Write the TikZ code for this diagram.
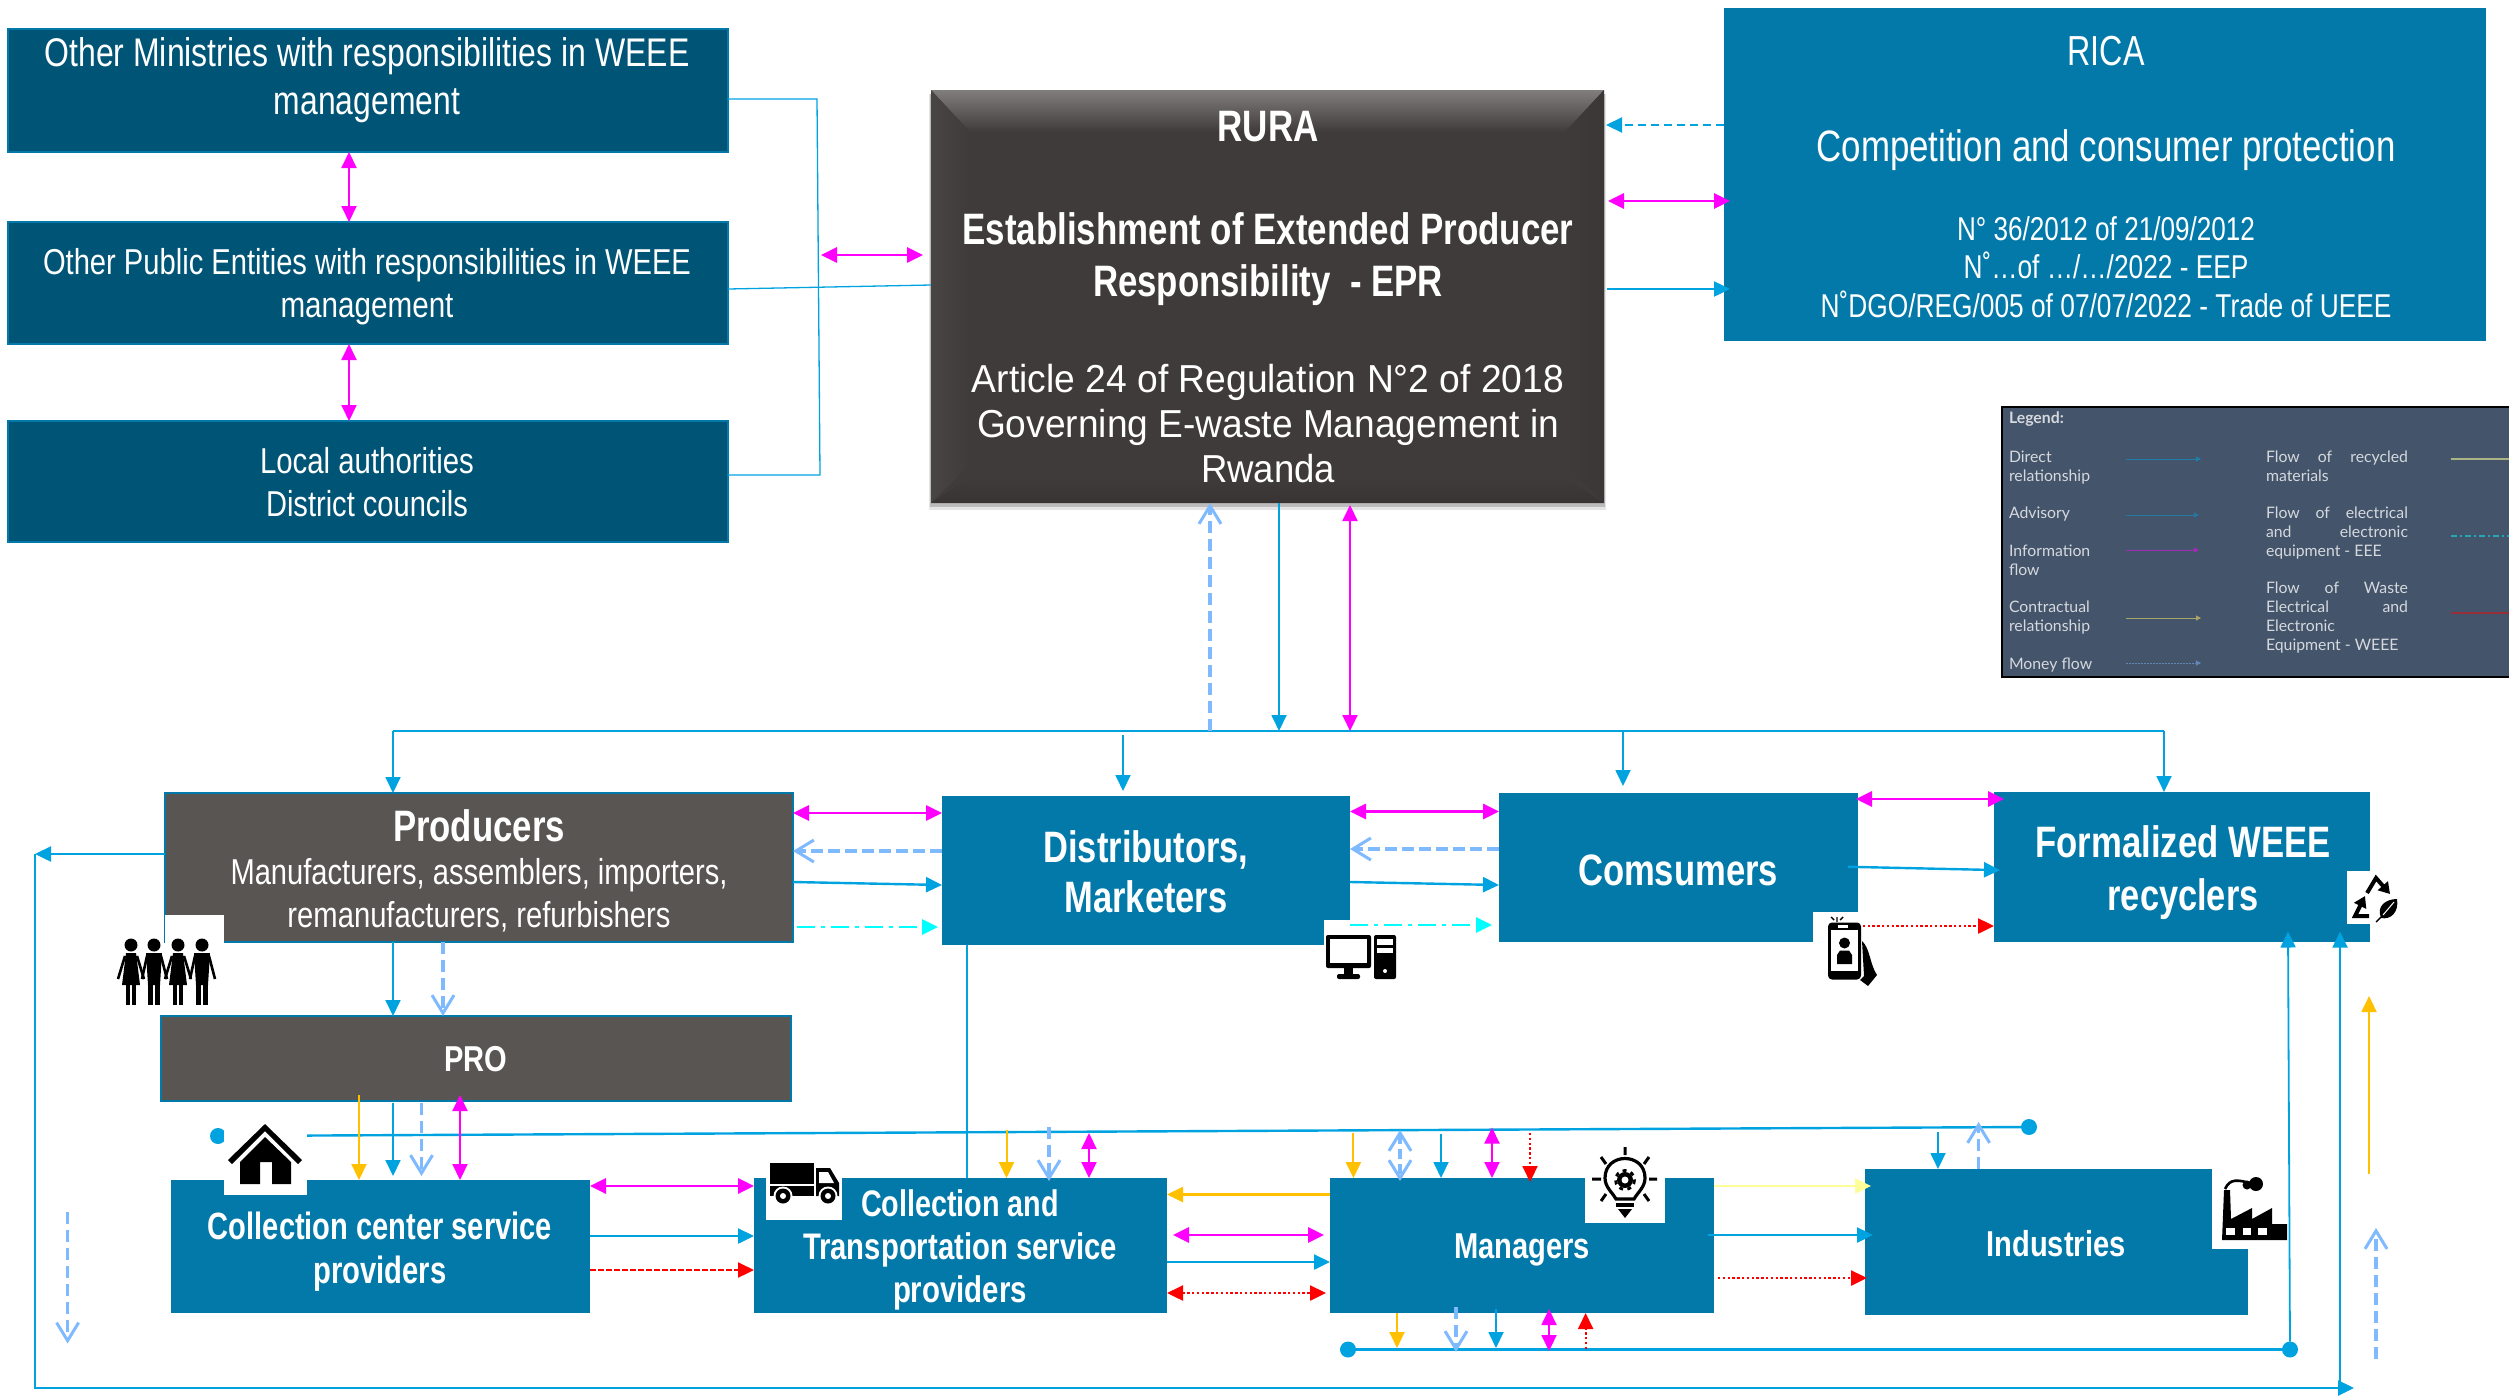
\documentclass[tikz,border=0pt]{standalone}
\usepackage{fontspec}
\usepackage{graphicx}
\usetikzlibrary{arrows.meta}
\setmainfont{Liberation Sans}
\newfontfamily\latofont{Lato}
\newlength\pxu \setlength\pxu{0.5pt}
\newcommand\fitl[2]{\resizebox{#1\pxu}{\height}{#2}}
\newcommand\jl[2]{\hbox to #1\pxu{#2}}
\newcommand\fs[2]{\fontsize{#1}{#2}\selectfont}
\definecolor{boxblue}{HTML}{0279A9}
\definecolor{boxteal}{HTML}{005476}
\definecolor{boxgrey}{HTML}{595552}
\definecolor{ruradark}{HTML}{3F3B3A}
\definecolor{flowblue}{HTML}{00A3E0}
\definecolor{flowlight}{HTML}{7FBAFF}
\definecolor{flowamber}{HTML}{FFC000}
\definecolor{flowpale}{HTML}{FFFF99}
\definecolor{flowmag}{HTML}{FF00FF}
\definecolor{flowcyan}{HTML}{00FFFF}
\definecolor{flowred}{HTML}{FF0000}
\definecolor{legbg}{HTML}{44546A}
\definecolor{legtext}{HTML}{D5D9DE}
\tikzset{
  tri/.tip={Triangle[length=8pt,width=7.5pt]},
  barb/.tip={Straight Barb[length=9pt,width=11pt,line width=1.5pt]},
  base/.style={inner sep=0pt,outer sep=0pt,rectangle},
  tealbox/.style={base,fill=boxteal,draw=boxblue,line width=1pt},
  greybox/.style={base,fill=boxgrey,draw=boxblue,line width=1pt},
  bluebox/.style={base,fill=boxblue},
  txt/.style={inner sep=0pt,outer sep=0pt,text=white,align=center},
  blue/.style={draw=flowblue,line width=1.2pt,-{tri}},
  bluethin/.style={draw=flowblue,line width=0.9pt,-{tri}},
  plain/.style={draw=flowblue,line width=0.65pt},
  plainb/.style={draw=flowblue,line width=1.2pt},
  mag/.style={draw=flowmag,line width=1.4pt,{tri}-{tri}},
  magthin/.style={draw=flowmag,line width=1pt,{tri}-{tri}},
  lite/.style={draw=flowlight,line width=2pt,dash pattern=on 6pt off 2.5pt,-{barb}},
  litev/.style={draw=flowlight,line width=1.7pt,dash pattern=on 6pt off 3pt,-{barb}},
  liteboth/.style={draw=flowlight,line width=1.7pt,dash pattern=on 5pt off 2.5pt,{barb}-{barb}},
  amber/.style={draw=flowamber,line width=1pt,-{tri}},
  pale/.style={draw=flowpale,line width=1.2pt,-{tri}},
  rdot/.style={draw=flowred,line width=1.2pt,dash pattern=on 1.2pt off 1.2pt,-{tri}},
  rdotboth/.style={draw=flowred,line width=1.2pt,dash pattern=on 1.2pt off 1.2pt,{tri}-{tri}},
  rdash/.style={draw=flowred,line width=1.1pt,dash pattern=on 3pt off 1pt,-{tri}},
  cyandd/.style={draw=flowcyan,line width=1.4pt,dash pattern=on 9pt off 3pt on 2pt off 3pt,-{tri}},
  bdash/.style={draw=flowblue,line width=1.2pt,dash pattern=on 4pt off 2.5pt,-{tri}},
  dot/.style={circle,fill=flowblue,inner sep=0pt,outer sep=0pt,minimum size=8pt},
  legtxt/.style={inner sep=0pt,outer sep=0pt,text=legtext,align=left,anchor=north west,font=\latofont\fs{7.9}{9.5}},
  legarrow/.style={line width=0.5pt,-{Triangle[length=2.5pt,width=2.5pt]}},
}
\newcommand\mkbox[6]{\node[#6,minimum width={(#4-#2)*0.5pt},minimum height={(#5-#3)*0.5pt}] (#1) at ({(#2+#4)/2},{(#3+#5)/2}) {};}
\newcommand\whiteout[4]{\fill[white] (#1,#2) rectangle (#3,#4);}
\newcommand\womanfig[1]{%
  \fill (#1,945) circle[radius=6.5];
  \fill ({#1-5},953) -- ({#1+5},953) -- ({#1+9},985) -- ({#1-9},985) -- cycle;
  \fill ({#1-5},985) rectangle ({#1-1},1005);
  \fill ({#1+1},985) rectangle ({#1+5},1005);
  \draw[line width=1.3pt] ({#1-6},956) -- ({#1-13},979);
  \draw[line width=1.3pt] ({#1+6},956) -- ({#1+13},979);}
\newcommand\manfig[1]{%
  \fill (#1,945) circle[radius=6.5];
  \fill ({#1-8},953) -- ({#1+8},953) -- ({#1+6},985) -- ({#1-6},985) -- cycle;
  \fill ({#1-6},985) rectangle ({#1-1},1005);
  \fill ({#1+1},985) rectangle ({#1+6},1005);
  \draw[line width=1.3pt] ({#1-7},956) -- ({#1-12},979);
  \draw[line width=1.3pt] ({#1+7},956) -- ({#1+13},979);}
\begin{document}
\begin{tikzpicture}[x=0.5pt,y=-0.5pt]
\useasboundingbox (0,0) rectangle (2509,1397);

%% ---------- boxes ----------
\mkbox{min}{8}{29}{728}{152}{tealbox}
\mkbox{pub}{8}{222}{728}{344}{tealbox}
\mkbox{loc}{8}{421}{728}{542}{tealbox}
\mkbox{rica}{1724}{8}{2486}{341}{bluebox}
\fill[black,opacity=.10] (929,94) rectangle (1606,510);
\fill[black,opacity=.18] (930,94) rectangle (1605,507);
\mkbox{rura}{931}{90}{1604}{503}{base,fill=ruradark}
\shade[top color=ruradark!60!white!85!ruradark,bottom color=ruradark] (931,90) -- (1604,90) -- (1565,132) -- (970,132) -- cycle;
\shade[left color=ruradark!95!white,right color=ruradark] (931,90) -- (970,132) -- (970,465) -- (931,503) -- cycle;
\shade[left color=ruradark,right color=ruradark!93!black] (1604,90) -- (1565,132) -- (1565,465) -- (1604,503) -- cycle;
\shade[top color=ruradark,bottom color=ruradark!88!black] (931,503) -- (970,478) -- (1565,478) -- (1604,503) -- cycle;
\mkbox{prod}{165}{793}{793}{942}{greybox}
\mkbox{pro}{161}{1016}{791}{1101}{greybox}
\mkbox{dist}{942}{796}{1350}{945}{bluebox}
\mkbox{cons}{1499}{793}{1858}{942}{bluebox}
\mkbox{form}{1994}{792}{2370}{942}{bluebox}
\mkbox{cc}{171}{1180}{590}{1313}{bluebox}
\mkbox{trans}{754}{1178}{1167}{1313}{bluebox}
\mkbox{mgr}{1330}{1178}{1714}{1313}{bluebox}
\mkbox{ind}{1865}{1169}{2248}{1315}{bluebox}

%% ---------- long collector with its end dots ----------
\node[dot] (dotA) at (218,1136) {};
\node[dot] (dotB) at (2029,1127) {};
\node[dot] (dotC) at (1348,1349.5) {};
\node[dot] (dotD) at (2290,1349.5) {};
\draw[plainb] (dotA) -- (dotB);
\draw[plainb] (dotC) -- (dotD);

%% ---------- white notches behind the icons ----------
\whiteout{165}{915}{224}{943}
\whiteout{224}{1110}{307}{1195}
\whiteout{766}{1178}{842}{1220}
\whiteout{1324}{920}{1351}{946}
\whiteout{1813}{912}{1859}{943}
\whiteout{2347}{871}{2371}{924}
\whiteout{1585}{1178}{1665}{1223}
\whiteout{2212}{1169}{2249}{1249}

%% ---------- free ends ----------
\coordinate (brT) at (817,99);
\coordinate (brB) at (820,475);
\coordinate (brM) at (821,255);
\coordinate (trL) at (393,731);
\coordinate (trR) at (2164,731);
\coordinate (trD) at (1123,735);
\coordinate (trC) at (1623,731);
\coordinate (trA) at (1210,731);
\coordinate (trB) at (1279,731);
\coordinate (trM) at (1350,731);
\coordinate (outL) at (35,854);
\coordinate (outB) at (35,1388);
\coordinate (outR) at (2354,1388);
\coordinate (outV) at (2340,1388);
\coordinate (sideA) at (67.6,1212);
\coordinate (sideB) at (67.6,1343.5);
\coordinate (sideC) at (2369,1173.5);
\coordinate (sideD) at (2369,996);
\coordinate (sideE) at (2376,1358.5);
\coordinate (sideF) at (2376,1228);
\coordinate (tA) at (1006.5,1129.5);
\coordinate (tB) at (1049,1127);
\coordinate (tC) at (1089,1133);
\coordinate (mA) at (1353.4,1133);
\coordinate (mB) at (1400,1130);
\coordinate (mC) at (1441,1134);
\coordinate (mD) at (1492,1127.5);
\coordinate (mE) at (1530,1133);
\coordinate (bA) at (1397,1348);
\coordinate (bB) at (1456,1352);
\coordinate (bC) at (1496,1348);
\coordinate (bD) at (1549,1351);
\coordinate (bE) at (1585.6,1349);
\coordinate (iA) at (1938,1132);
\coordinate (iB) at (1978.6,1122);
\coordinate (upA) at (2288,931.5);
\coordinate (upB) at (2340,931.5);
\coordinate (pyA) at (359,1095);
\coordinate (pyB) at (460,1095);

%% ---------- upper left group ----------
\draw[plain] (min.east |- brT) -- (brT) -- (brB) -- (loc.east |- brB);
\draw[plain] (pub.east |- 0,289) -- (rura.west |- 0,285);
\draw[mag,shorten >=4pt] (brM) -- (rura.west |- brM);
\draw[magthin] (349,0 |- min.south) -- (349,0 |- pub.north);
\draw[magthin] (349,0 |- pub.south) -- (349,0 |- loc.north);

%% ---------- RURA and RICA ----------
\draw[bdash] (rica.west |- 0,125) -- ([xshift=1pt]rura.east |- 0,125);
\draw[mag,shorten <=1pt,shorten >=-3pt] ([xshift=1pt]rura.east |- 0,201) -- (rica.west |- 0,201);
\draw[blue,shorten <=1.5pt,shorten >=-3pt] (rura.east |- 0,289) -- (rica.west |- 0,289);
\draw[plain] (trL) -- (trR);
\draw[litev] (trA) -- (rura.south -| trA);
\draw[bluethin] (rura.south -| trB) -- (trB);
\draw[magthin] (trM) -- ([yshift=-1pt]rura.south -| trM);
\draw[bluethin] (trL) -- (prod.north -| trL);
\draw[bluethin,shorten >=2.5pt] (trD) -- (dist.north -| trD);
\draw[bluethin,shorten >=3.5pt] (trC) -- (cons.north -| trC);
\draw[bluethin] (trR) -- (form.north -| trR);

%% ---------- first row ----------
\draw[mag] (prod.east |- 0,813) -- (dist.west |- 0,813);
\draw[lite] (dist.west |- 0,851) -- (prod.east |- 0,851);
\draw[blue] (prod.east |- 0,882) -- (dist.west |- 0,885);
\draw[cyandd,shorten <=2pt,shorten >=2pt] (prod.east |- 0,927) -- (dist.west |- 0,927);
\draw[mag] (dist.east |- 0,811.5) -- (cons.west |- 0,811.5);
\draw[lite] (cons.west |- 0,849) -- (dist.east |- 0,849);
\draw[blue] (dist.east |- 0,882) -- (cons.west |- 0,885);
\draw[cyandd,shorten >=3.5pt] (dist.east |- 0,925) -- (cons.west |- 0,925);
\draw[mag,shorten >=-5pt,shorten <=-1pt] (cons.east |- 0,799) -- (form.west |- 0,799);
\draw[blue,shorten <=-5pt,shorten >=-3pt] (cons.east |- 0,867) -- (form.west |- 0,870);
\draw[rdot] (cons.east |- 0,926) -- (form.west |- 0,926);
\draw[blue] (prod.west |- outL) -- (outL);
\draw[plain,line width=1pt] (outL) -- (outB) -- (outV);
\draw[plainb,-{tri}] (outV) -- (outR);
\draw[bluethin] (outV) -- (upB);
\draw[bluethin] (dotD) -- (upA);
\draw[plain,line width=1pt] (967,0 |- dist.south) -- (967,0 |- trans.north);

%% ---------- producers, PRO, collection centre ----------
\draw[bluethin] (393,0 |- prod.south) -- (393,0 |- pro.north);
\draw[litev] (443,0 |- prod.south) -- (443,0 |- pro.north);
\draw[amber] (pyA) -- (pyA |- cc.north);
\draw[bluethin,shorten <=1pt,shorten >=2pt] (393,0 |- pro.south) -- (393,0 |- cc.north);
\draw[litev,shorten <=1pt,shorten >=2pt] (421.5,0 |- pro.south) -- (421.5,0 |- cc.north);
\draw[magthin] (pyB) -- (pyB |- cc.north);

%% ---------- bottom row ----------
\draw[mag] (cc.east |- 0,1186) -- (trans.west |- 0,1186);
\draw[blue] (cc.east |- 0,1236) -- (trans.west |- 0,1236);
\draw[rdash] (cc.east |- 0,1270) -- (trans.west |- 0,1270);
\draw[litev] (sideA) -- (sideB);
\draw[amber] (tA) -- (tA |- trans.north);
\draw[litev] (tB) -- ([yshift=-1.5pt]tB |- trans.north);
\draw[magthin] (tC) -- (tC |- trans.north);
\draw[amber,line width=1.3pt] (mgr.west |- 0,1194.5) -- (trans.east |- 0,1194.5);
\draw[mag,shorten <=3pt,shorten >=3pt] (trans.east |- 0,1235) -- (mgr.west |- 0,1235);
\draw[blue] (trans.east |- 0,1262) -- (mgr.west |- 0,1262);
\draw[rdotboth,shorten <=0pt,shorten >=2pt] (trans.east |- 0,1293) -- (mgr.west |- 0,1293);
\draw[amber] (mA) -- (mA |- mgr.north);
\draw[liteboth] (mB) -- ([yshift=-1.5pt]mB |- mgr.north);
\draw[bluethin] (mC) -- (mC |- mgr.north);
\draw[magthin] (mD) -- (mD |- mgr.north);
\draw[rdot,line width=1pt] (mE) -- ([yshift=-2pt]mE |- mgr.north);
\draw[amber] (bA |- mgr.south) -- (bA);
\draw[litev] ([yshift=3pt]bB |- mgr.south) -- (bB);
\draw[bluethin,shorten <=-2pt] (bC |- mgr.south) -- (bC);
\draw[magthin] ([yshift=2pt]bD |- mgr.south) -- (bD);
\draw[rdot,line width=1pt] (bE) -- (bE |- mgr.south);
\draw[pale,shorten >=-3pt] (mgr.east |- 0,1186) -- (ind.west |- 0,1186);
\draw[blue,shorten >=-4pt,shorten <=-3pt] (mgr.east |- 0,1235) -- (ind.west |- 0,1235);
\draw[rdot,shorten <=2pt,shorten >=-1pt] (mgr.east |- 0,1278) -- (ind.west |- 0,1278);
\draw[bluethin] (iA) -- (iA |- ind.north);
\draw[litev] (iB |- ind.north) -- (iB);
\draw[amber] (sideC) -- (sideD);
\draw[litev] (sideE) -- (sideF);

%% ---------- icons ----------
% people
\womanfig{131}\manfig{154}\womanfig{178}\manfig{202}
% house
\fill (265,1124) -- (302,1160) -- (298,1164) -- (265,1131) -- (232,1164) -- (228,1160) -- cycle;
\fill (265,1137) -- (291,1162) -- (291,1184) -- (272,1184) -- (272,1162) -- (260,1162) -- (260,1184) -- (240,1184) -- (240,1162) -- cycle;
% truck
\fill (770,1162.5) rectangle (814,1184);
\fill (770,1186) rectangle (814,1196);
\fill (816,1168) -- (830,1168) -- (839,1183) -- (839,1196) -- (816,1196) -- cycle;
\fill[white] (819,1172) -- (828,1172) -- (834,1183) -- (819,1183) -- cycle;
\fill[white] (783,1196) circle[radius=9.5];
\fill (783,1196) circle[radius=7.5];
\fill[white] (783,1196) circle[radius=3];
\fill[white] (828,1196) circle[radius=9.5];
\fill (828,1196) circle[radius=7.5];
\fill[white] (828,1196) circle[radius=3];
% computer
\fill[rounded corners=1pt] (1326,935) rectangle (1371,968);
\fill[white] (1330,939) rectangle (1367,963);
\fill (1344,968) rectangle (1353,975);
\fill[rounded corners=1pt] (1337,974) rectangle (1360,979);
\fill[rounded corners=1pt] (1374,935) rectangle (1396,979);
\fill[white] (1377,939) rectangle (1393,945);
\fill[white] (1377,948) rectangle (1393,953);
\fill[white] (1385,971) circle[radius=2];
% phone
\fill[rounded corners=2pt] (1828,922.5) rectangle (1861,979.5);
\fill[white] (1831,930) rectangle (1858,971);
\fill[white] (1838,925) rectangle (1848,928);
\fill (1844.5,943) circle[radius=5.5];
\fill (1837,964) -- (1837,955) -- (1840,950.5) -- (1849,950.5) -- (1852,955) -- (1852,964) -- cycle;
\fill (1862,941) .. controls (1870,948) and (1870,965) .. (1877,975) -- (1868,986) -- (1860,980) -- (1864,976) -- cycle;
\draw[line width=0.7pt] (1837,917) -- (1837,922) (1831,917) -- (1834,920) (1843,917) -- (1840,920);
% recycling mark
\draw[line width=2pt,-{Triangle[length=5.5pt,width=6.5pt]}] (2367,893) -- (2376,878) -- (2390,894);
\draw[line width=2pt,-{Triangle[length=5.5pt,width=6.5pt]}] (2369,916) -- (2355,916) -- (2365,896);
\fill (2397,899) .. controls (2399,912) and (2391,920) .. (2381,918) .. controls (2376,906) and (2386,899) .. (2397,899) -- cycle;
\draw[white,line width=0.5pt] (2394,902) -- (2383,915);
\draw[line width=0.7pt] (2381,917) -- (2376,922);
% light bulb
\draw[line width=1.6pt] (1616,1199) .. controls (1612,1192) and (1605,1187) .. (1605,1178) .. controls (1605,1152) and (1645,1152) .. (1645,1178) .. controls (1645,1187) and (1638,1192) .. (1634,1199) -- cycle;
\fill (1625,1180) circle[radius=8];
\draw[line width=1.4pt,dash pattern=on 2pt off 2.2pt] (1625,1180) circle[radius=9.5];
\fill[white] (1625,1180) circle[radius=3.5];
\fill (1616,1203) rectangle (1634,1207);
\fill (1618,1209) -- (1632,1209) -- (1625,1218) -- cycle;
\draw[line width=1.5pt]
  (1625,1147) -- (1625,1155)
  (1592,1179) -- (1601,1179) (1649,1179) -- (1657,1179)
  (1601,1157) -- (1606,1164) (1649,1157) -- (1644,1164)
  (1601,1201) -- (1606,1194) (1649,1201) -- (1644,1194);
% factory
\fill (2222,1240) -- (2224,1190) -- (2230,1190) -- (2231,1219) -- (2252,1208) -- (2252,1219) -- (2272,1208) -- (2272,1224) -- (2287,1224) -- (2287,1240) -- cycle;
\fill[white] (2226,1228) rectangle (2235,1234.5);
\fill[white] (2243,1228) rectangle (2251,1234.5);
\fill[white] (2258,1228) rectangle (2267,1234.5);
\fill (2256,1184) circle[radius=7];
\fill (2247,1185) circle[radius=4.5];
\draw[line width=1.3pt] (2225,1189) .. controls (2230,1178) and (2238,1180) .. (2250,1183);

%% ---------- texts ----------
\node[txt,font=\fs{20}{24}] (minT) at (367,80) {\fitl{645}{Other Ministries with responsibilities in WEEE}\\\fitl{186}{management}};
\node[txt,font=\fs{18}{21.5}] (pubT) at (367,287) {\fitl{648}{Other Public Entities with responsibilities in WEEE}\\\fitl{173}{management}};
\node[txt,font=\fs{18}{21.5}] (locT) at (367,482) {\fitl{214}{Local authorities}\\\fitl{202}{District councils}};
\node[txt,font=\fs{21}{24}] (ricaT) at (2106,51) {\fitl{77}{RICA}};
\node[txt,font=\fs{22}{24}] (ricaS) at (2106,150) {\fitl{579}{Competition and consumer protection}};
\node[txt,font=\fs{16.5}{19.25}] (ricaL) at (2106,267) {\fitl{298}{N° 36/2012 of 21/09/2012}\\\fitl{285}{N˚…of …/…/2022 - EEP}\\\fitl{571}{N˚DGO/REG/005 of 07/07/2022 - Trade of UEEE}};
\node[txt,font=\bfseries\fs{22}{26}] (ruraT) at (1268,127) {\fitl{101}{RURA}};
\node[txt,font=\bfseries\fs{22}{26}] (ruraE) at (1268,259) {\fitl{611}{Establishment of Extended Producer}\\\fitl{350}{Responsibility\ \ - EPR}};
\node[txt,font=\fs{19.5}{22.5}] (ruraA) at (1268,424) {\fitl{592}{Article 24 of Regulation N°2 of 2018}\\\fitl{582}{Governing E-waste Management in}\\\fitl{134}{Rwanda}};
\node[txt,font=\bfseries\fs{22}{24}] (prodT) at (479,826) {\fitl{172}{Producers}};
\node[txt,font=\fs{18}{21.75}] (prodS) at (479,895) {\fitl{497}{Manufacturers, assemblers, importers,}\\\fitl{383}{remanufacturers, refurbishers}};
\node[txt,font=\bfseries\fs{18}{22}] (proT) at (476,1059) {\fitl{63}{PRO}};
\node[txt,font=\bfseries\fs{22}{25}] (distT) at (1146,871.5) {\fitl{205}{Distributors,}\\\fitl{163}{Marketers}};
\node[txt,font=\bfseries\fs{22}{25}] (consT) at (1678,870) {\fitl{200}{Comsumers}};
\node[txt,font=\bfseries\fs{22}{26.5}] (formT) at (2183,872.5) {\fitl{295}{Formalized WEEE}\\\fitl{151}{recyclers}};
\node[txt,font=\bfseries\fs{19}{22}] (ccT) at (380,1252) {\fitl{344}{Collection center service}\\\fitl{133}{providers}};
\node[txt,font=\bfseries\fs{18.5}{21.5}] (transT) at (960,1250) {\fitl{198}{Collection and}\\\fitl{314}{Transportation service}\\\fitl{134}{providers}};
\node[txt,font=\bfseries\fs{18}{22}] (mgrT) at (1522,1250) {\fitl{136}{Managers}};
\node[txt,font=\bfseries\fs{18}{22}] (indT) at (2056,1244) {\fitl{139}{Industries}};

%% ---------- legend ----------
\node[base,fill=legbg,draw=black,line width=1pt,minimum width=509*0.5pt,minimum height=270*0.5pt,anchor=north west] (legend) at (2002,407) {};
\node[legtxt,font=\latofont\bfseries\fs{7.9}{9.5}] (lgT) at (2009,412) {Legend:};
\node[legtxt] (lg1) at (2009,450.5) {Direct\\relationship};
\node[legtxt] (lg2) at (2009,506.5) {Advisory};
\node[legtxt] (lg3) at (2009,544.5) {Information\\flow};
\node[legtxt] (lg4) at (2009,600.5) {Contractual\\relationship};
\node[legtxt] (lg5) at (2009,657.5) {Money flow};
\node[legtxt] (lg6) at (2266,450.5) {\jl{142}{Flow\hfill of\hfill recycled}\\materials};
\node[legtxt] (lg7) at (2266,506.5) {\jl{142}{Flow\hfill of\hfill electrical}\\\jl{142}{and\hfill electronic}\\equipment - EEE};
\node[legtxt] (lg8) at (2266,581.5) {\jl{142}{Flow\hfill of\hfill Waste}\\\jl{142}{Electrical\hfill and}\\Electronic\\Equipment - WEEE};
\coordinate (la1) at (2126,459); \coordinate (lb1) at (2201,459);
\coordinate (la2) at (2126,515); \coordinate (lb2) at (2199,515);
\coordinate (la3) at (2126,550); \coordinate (lb3) at (2199,550);
\coordinate (la4) at (2126,618); \coordinate (lb4) at (2201,618);
\coordinate (la5) at (2126,663); \coordinate (lb5) at (2201,663);
\coordinate (la6) at (2451,459);
\coordinate (la7) at (2451,536);
\coordinate (la8) at (2451,613);
\draw[legarrow,draw=flowblue!55!legbg] (la1) -- (lb1);
\draw[legarrow,draw=flowblue!45!legbg] (la2) -- (lb2);
\draw[legarrow,draw=flowmag!50!legbg] (la3) -- (lb3);
\draw[legarrow,draw=yellow!45!legbg] (la4) -- (lb4);
\draw[legarrow,draw=flowlight!50!legbg,dash pattern=on 1pt off 0.5pt] (la5) -- (lb5);
\draw[line width=0.6pt,draw=flowpale!55!legbg] (la6) -- (legend.east |- la6);
\draw[line width=0.6pt,draw=flowcyan!50!legbg,dash pattern=on 3pt off 1.5pt on 1pt off 1.5pt] (la7) -- (legend.east |- la7);
\draw[line width=0.8pt,draw=flowred!45!legbg] (la8) -- (legend.east |- la8);
\end{tikzpicture}
\end{document}
